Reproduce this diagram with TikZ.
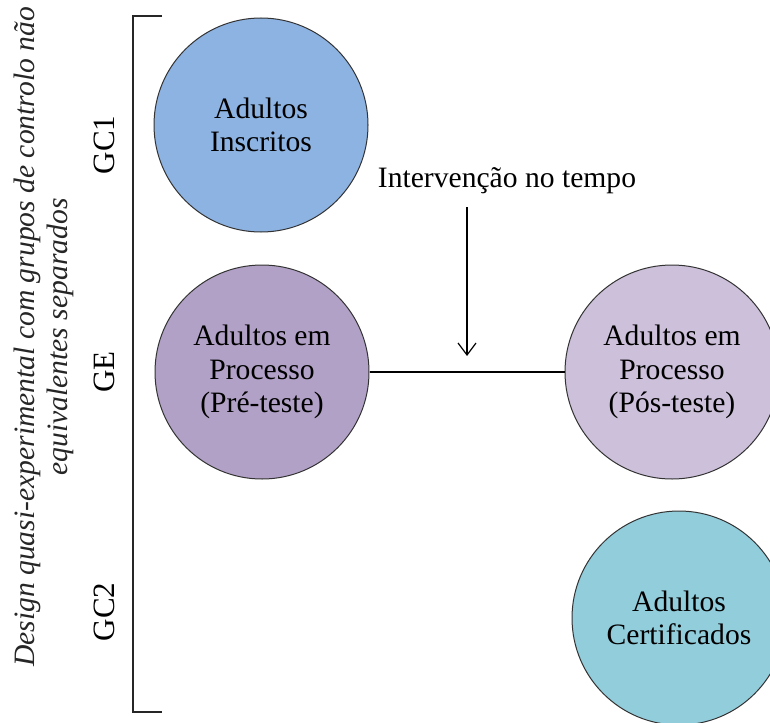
\documentclass[tikz,border=0pt]{standalone}
\usepackage{fontspec}
\setmainfont{Liberation Serif}
\usetikzlibrary{arrows.meta}
\definecolor{cblue}{HTML}{8DB3E2}
\definecolor{cpurple}{HTML}{B2A1C7}
\definecolor{clilac}{HTML}{CCC0DA}
\definecolor{caqua}{HTML}{92CDDC}
\begin{document}
\begin{tikzpicture}[x=0.5pt,y=-0.5pt,
  bubble/.style={circle,draw=black!80,line width=0.5pt,minimum size=107pt,inner sep=0pt,align=center,font=\fontsize{14.8}{16.8}\selectfont},
  sidelabel/.style={rotate=90,font=\fontsize{15.5}{17}\selectfont},
  conn/.style={line width=0.6pt,black}]
\path[use as bounding box,clip] (0,0) rectangle (770,722);
\fill[white] (0,0) rectangle (770,722);
% bracket
\coordinate (bt) at (162,16);
\coordinate (bb) at (162,712);
\draw[line width=0.8pt,black!85] (bt) -- (133,16) -- (133,712) -- (bb);
% title
\node[rotate=90,align=center,font=\fontsize{14.8}{16.8}\selectfont\itshape,text=black!85] (title) at (44,337)
  {Design quasi-experimental com grupos de controlo não\\ equivalentes separados};
\node[sidelabel] (gc1) at (104,145) {GC1};
\node[sidelabel] (ge) at (104,372) {GE};
\node[sidelabel] (gc2) at (104,612) {GC2};
% circles
\node[bubble,fill=cblue] (ins) at (261,125) {Adultos\\Inscritos};
\node[bubble,fill=cpurple] (pre) at (262,372) {Adultos em\\Processo\\(Pré-teste)};
\node[bubble,fill=clilac] (pos) at (672,372) {Adultos em\\Processo\\(Pós-teste)};
\node[bubble,fill=caqua] (cert) at (679,618) {Adultos\\Certificados};
\draw[conn] (pre) -- (pos);
% intervention
\node[font=\fontsize{14.8}{16.8}\selectfont] (int) at (507,181) {Intervenção no tempo};
\coordinate (atop) at (467,207);
\coordinate (abot) at (467,356);
\draw[conn,-{Straight Barb[length=6pt,width=9pt]}] (atop) -- (abot);
\end{tikzpicture}
\end{document}
